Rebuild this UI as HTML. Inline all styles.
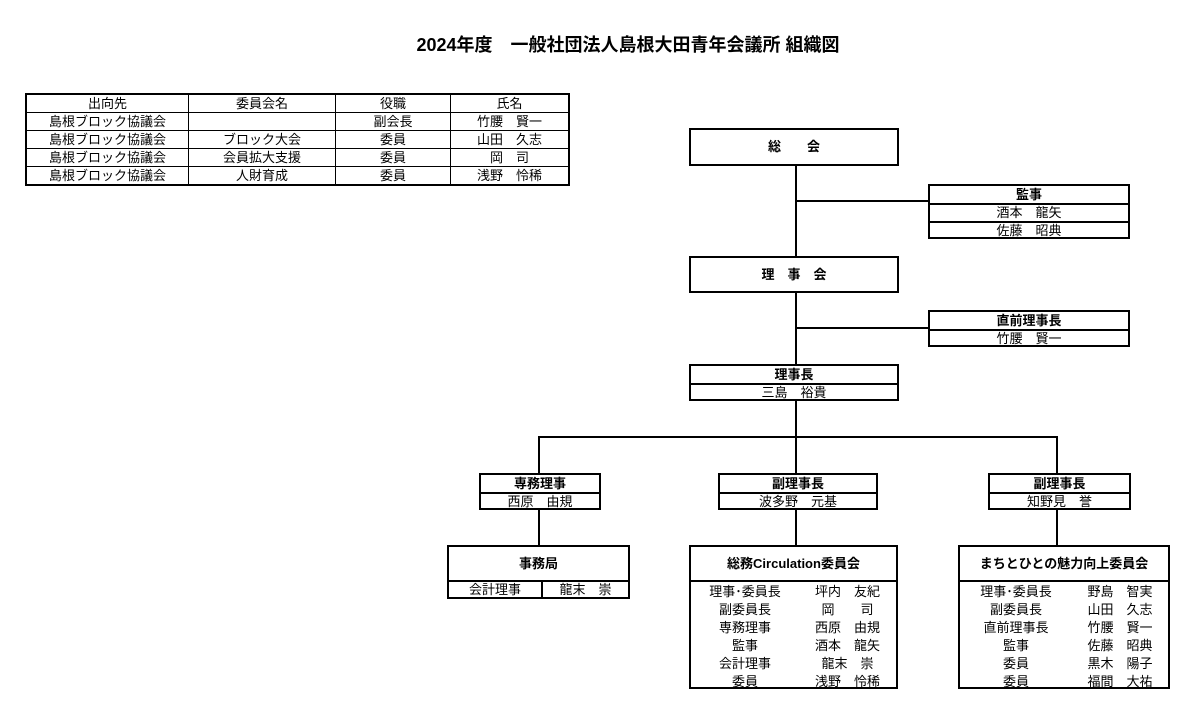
<!DOCTYPE html>
<html><head><meta charset="utf-8"><style>
body{margin:0;width:1200px;height:724px;background:#fff;position:relative;font-family:"Liberation Sans","Noto Sans CJK JP",sans-serif;color:#000;overflow:hidden}
.a{position:absolute;box-sizing:border-box}
.b{border:2px solid #000;background:#fff}
.c{display:flex;align-items:center;justify-content:center;font-size:13px;white-space:nowrap;line-height:14px;overflow:hidden}
.h{font-weight:bold}
.l{background:#000}
table{border-collapse:collapse;font-size:13px}
td{border:1px solid #000;text-align:center;height:17px;padding:0;line-height:16px}
</style></head><body>
<div class="a c h" style="left:0;top:33px;width:1256px;height:24px;font-size:18px;line-height:22px">2024年度　一般社団法人島根大田青年会議所 組織図</div>
<table class="a" style="left:25px;top:93px;width:545px;border:2px solid #000">
<tr><td style="width:161px">出向先</td><td style="width:146px">委員会名</td><td style="width:114px">役職</td><td>氏名</td></tr>
<tr><td>島根ブロック協議会</td><td></td><td>副会長</td><td>竹腰　賢一</td></tr>
<tr><td>島根ブロック協議会</td><td>ブロック大会</td><td>委員</td><td>山田　久志</td></tr>
<tr><td>島根ブロック協議会</td><td>会員拡大支援</td><td>委員</td><td>岡　司</td></tr>
<tr><td>島根ブロック協議会</td><td>人財育成</td><td>委員</td><td>浅野　怜稀</td></tr>
</table>
<div class="a l" style="left:795px;top:165px;width:2px;height:272px"></div>
<div class="a l" style="left:796px;top:200px;width:132px;height:2px"></div>
<div class="a l" style="left:796px;top:327px;width:132px;height:2px"></div>
<div class="a l" style="left:538px;top:436px;width:520px;height:2px"></div>
<div class="a l" style="left:538px;top:436px;width:2px;height:38px"></div>
<div class="a l" style="left:795px;top:436px;width:2px;height:38px"></div>
<div class="a l" style="left:1056px;top:436px;width:2px;height:38px"></div>
<div class="a l" style="left:538px;top:508px;width:2px;height:38px"></div>
<div class="a l" style="left:795px;top:508px;width:2px;height:38px"></div>
<div class="a l" style="left:1056px;top:508px;width:2px;height:38px"></div>
<div class="a b c h" style="left:689px;top:128px;width:210px;height:38px">総　　会</div>
<div class="a b" style="left:928px;top:184px;width:202px;height:55px">
<div class="c h" style="height:17px;border-bottom:2px solid #000">監事</div>
<div class="c" style="height:16px;border-bottom:2px solid #000">酒本　龍矢</div>
<div class="c" style="height:16px">佐藤　昭典</div></div>
<div class="a b c h" style="left:689px;top:256px;width:210px;height:37px">理　事　会</div>
<div class="a b" style="left:928px;top:310px;width:202px;height:37px">
<div class="c h" style="height:17px;border-bottom:2px solid #000">直前理事長</div>
<div class="c" style="height:16px">竹腰　賢一</div></div>
<div class="a b" style="left:689px;top:364px;width:210px;height:37px">
<div class="c h" style="height:17px;border-bottom:2px solid #000">理事長</div>
<div class="c" style="height:16px">三島　裕貴</div></div>
<div class="a b" style="left:479px;top:473px;width:122px;height:37px">
<div class="c h" style="height:17px;border-bottom:2px solid #000">専務理事</div>
<div class="c" style="height:16px">西原　由規</div></div>
<div class="a b" style="left:718px;top:473px;width:160px;height:37px">
<div class="c h" style="height:17px;border-bottom:2px solid #000">副理事長</div>
<div class="c" style="height:16px">波多野　元基</div></div>
<div class="a b" style="left:988px;top:473px;width:143px;height:37px">
<div class="c h" style="height:17px;border-bottom:2px solid #000">副理事長</div>
<div class="c" style="height:16px">知野見　誉</div></div>
<div class="a b" style="left:447px;top:545px;width:183px;height:54px">
<div class="c h" style="height:33px;border-bottom:2px solid #000">事務局</div>
<div style="display:flex;height:15px"><div class="c" style="width:92px;border-right:2px solid #000">会計理事</div><div class="c" style="flex:1">龍末　崇</div></div></div>
<div class="a b" style="left:689px;top:545px;width:209px;height:144px;font-size:13px">
<div class="c h" style="height:33px;border-bottom:2px solid #000">総務Circulation委員会</div>
<div style="display:grid;grid-template-columns:108px 1fr;grid-auto-rows:18px;text-align:center;line-height:18px;padding-top:1px">
<div>理事･委員長</div><div>坪内　友紀</div><div>副委員長</div><div>岡　　司</div><div>専務理事</div><div>西原　由規</div><div>監事</div><div>酒本　龍矢</div><div>会計理事</div><div>龍末　崇</div><div>委員</div><div>浅野　怜稀</div></div></div>
<div class="a b" style="left:958px;top:545px;width:212px;height:144px;font-size:13px">
<div class="c h" style="height:33px;border-bottom:2px solid #000">まちとひとの魅力向上委員会</div>
<div style="display:grid;grid-template-columns:112px 1fr;grid-auto-rows:18px;text-align:center;line-height:18px;padding-top:1px">
<div>理事･委員長</div><div>野島　智実</div><div>副委員長</div><div>山田　久志</div><div>直前理事長</div><div>竹腰　賢一</div><div>監事</div><div>佐藤　昭典</div><div>委員</div><div>黒木　陽子</div><div>委員</div><div>福間　大祐</div></div></div>
</body></html>
